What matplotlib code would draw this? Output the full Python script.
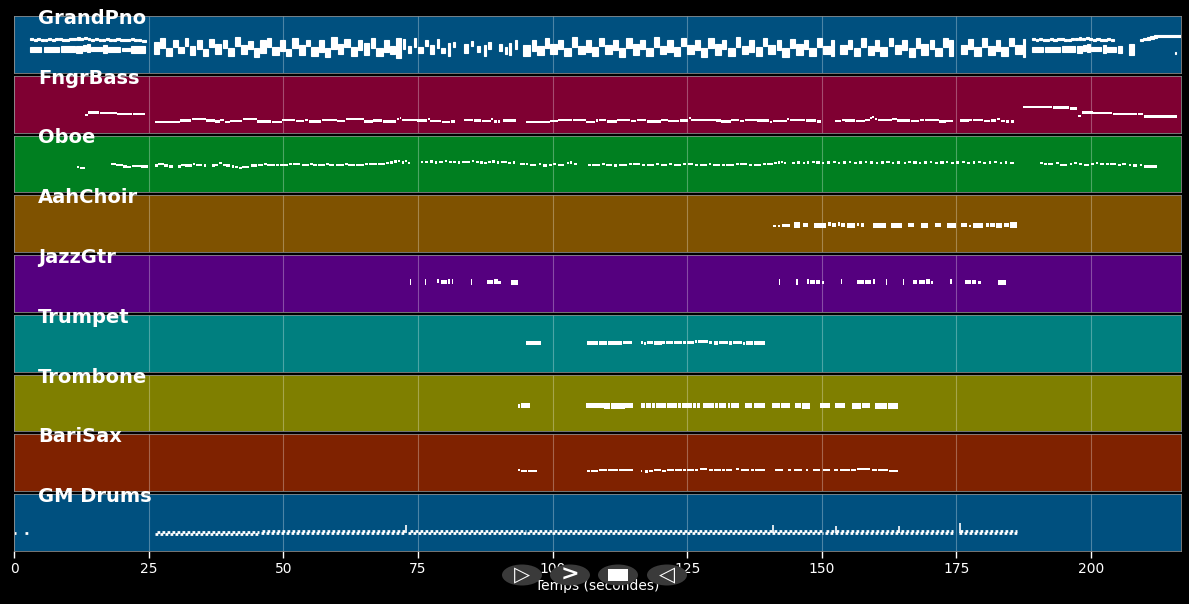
import matplotlib.pyplot as plt
from matplotlib.patches import Ellipse, Rectangle

tracks = ["GrandPno", "FngrBass", "Oboe", "AahChoir", "JazzGtr",
          "Trumpet", "Trombone", "BariSax", "GM Drums"]
track_colors = ["#00507f", "#7f0032", "#007f20", "#7f5200", "#55007f",
                "#007f7f", "#7f7f00", "#7f2200", "#00507f"]

# piano: (start, duration, lowest pitch, highest pitch)
piano_notes = [
    # intro, upper line
    (3.0, 0.6, 75, 75), (3.7, 0.5, 74, 74), (4.3, 0.6, 76, 76), (5.0, 0.6, 74, 74),
    (5.7, 0.5, 73, 73), (6.3, 0.6, 75, 75), (7.0, 0.6, 74, 74), (7.7, 0.5, 76, 76),
    (8.3, 0.6, 75, 75), (9.0, 0.6, 73, 73), (9.7, 0.5, 74, 74), (10.3, 0.6, 76, 76),
    (11.0, 0.6, 75, 75), (11.7, 0.5, 77, 77), (12.3, 0.6, 75, 75), (13.0, 0.6, 78, 78),
    (13.7, 0.5, 76, 76), (14.3, 0.6, 74, 74), (15.0, 0.6, 75, 75), (15.7, 0.5, 73, 73),
    (16.3, 0.6, 74, 74), (17.0, 0.6, 75, 75), (17.7, 0.5, 74, 74), (18.3, 0.6, 73, 73),
    (19.0, 0.6, 75, 75), (19.7, 0.5, 74, 74), (20.3, 0.6, 73, 73), (21.0, 0.6, 74, 74),
    (21.7, 0.5, 76, 76), (22.3, 0.6, 73, 73), (23.0, 0.6, 74, 74), (23.7, 0.8, 72, 72),
    # intro, lower chords
    (3.0, 2.1, 50, 56), (5.5, 2.9, 49, 56), (8.7, 2.6, 50, 57), (11.6, 1.0, 47, 58),
    (12.8, 0.5, 52, 60), (13.5, 0.6, 50, 62), (14.3, 2.1, 51, 55), (16.6, 0.6, 48, 60),
    (17.4, 2.3, 50, 56), (20.0, 1.6, 52, 54), (21.8, 2.6, 48, 57),
    # first section
    (26.0, 1.0, 44, 66), (27.2, 0.8, 58, 76), (28.2, 1.2, 40, 52), (29.6, 0.8, 60, 72),
    (30.5, 1.0, 46, 56), (31.7, 0.7, 62, 76), (32.6, 1.1, 42, 58), (34.0, 0.9, 56, 70),
    (35.1, 1.0, 40, 50), (36.3, 0.8, 60, 74), (37.3, 1.2, 44, 62), (38.8, 0.8, 58, 72),
    (39.8, 1.0, 40, 54), (41.0, 0.9, 62, 78), (42.1, 1.2, 44, 60), (43.5, 0.8, 56, 68),
    (44.5, 1.0, 38, 52), (45.7, 1.1, 48, 72), (47.0, 0.8, 60, 76), (48.0, 1.2, 42, 56),
    (49.4, 1.0, 52, 70), (50.6, 0.8, 40, 50), (51.6, 1.2, 58, 76), (53.0, 1.0, 42, 60),
    (54.2, 0.8, 62, 72), (55.2, 1.2, 40, 56), (56.6, 0.9, 50, 70), (57.7, 1.0, 38, 52),
    (58.9, 1.1, 56, 78), (60.2, 0.9, 44, 62), (61.3, 1.0, 60, 74), (62.5, 1.2, 40, 56),
    (63.9, 0.8, 54, 70), (64.9, 1.1, 42, 64), (66.2, 0.9, 58, 76), (67.3, 1.2, 40, 54),
    (68.7, 1.0, 50, 72), (69.9, 0.8, 44, 58), (70.9, 1.0, 36, 76),
    # sparse part
    (72.2, 0.4, 56, 74), (73.2, 0.6, 46, 58), (74.3, 0.3, 60, 76), (75.0, 0.9, 48, 56),
    (76.4, 0.5, 62, 70), (77.2, 0.7, 44, 60), (78.5, 0.4, 58, 74), (79.3, 0.8, 46, 54),
    (80.6, 0.3, 40, 64), (81.5, 0.3, 60, 66), (83.5, 0.8, 48, 62), (84.8, 0.4, 62, 68),
    (86.0, 0.6, 50, 58), (87.3, 0.3, 40, 60), (88.0, 0.6, 56, 66), (90.0, 0.7, 52, 62),
    (91.1, 0.5, 44, 56), (92.0, 0.3, 42, 64), (93.0, 0.4, 56, 70),
    # second section
    (94.6, 1.3, 40, 60), (96.1, 0.9, 52, 72), (97.2, 1.2, 42, 58), (98.6, 0.8, 58, 76),
    (99.6, 1.3, 44, 62), (101.1, 0.9, 56, 70), (102.2, 1.2, 40, 54), (103.6, 1.0, 60, 78),
    (104.8, 1.2, 44, 58), (106.2, 0.9, 50, 72), (107.3, 1.2, 40, 56), (108.7, 0.8, 62, 76),
    (109.7, 1.3, 44, 60), (111.2, 0.9, 54, 70), (112.3, 1.2, 38, 52), (113.7, 1.0, 58, 76),
    (114.9, 1.2, 42, 62), (116.3, 0.8, 56, 72), (117.3, 1.3, 40, 54), (118.8, 0.9, 60, 78),
    (119.9, 1.2, 44, 58), (121.3, 1.0, 50, 72), (122.5, 1.2, 40, 56), (123.9, 0.8, 62, 76),
    (124.9, 1.3, 44, 60), (126.4, 0.9, 54, 70), (127.5, 1.2, 38, 52), (128.9, 1.0, 58, 76),
    (130.1, 1.2, 42, 62), (131.5, 0.8, 56, 72), (132.5, 1.3, 40, 54), (134.0, 0.9, 60, 78),
    (135.1, 1.2, 44, 58), (136.5, 1.0, 50, 72), (137.7, 1.2, 40, 56), (139.1, 0.8, 62, 76),
    (140.1, 1.3, 44, 60), (141.6, 0.9, 54, 70), (142.7, 1.2, 38, 52), (144.1, 1.0, 58, 74),
    (145.3, 1.2, 42, 62), (146.7, 0.8, 56, 72), (147.7, 1.3, 40, 54), (149.2, 0.9, 60, 76),
    (150.3, 1.2, 44, 58), (151.7, 0.6, 40, 72),
    (153.4, 1.2, 44, 60), (154.8, 0.9, 56, 72), (155.9, 1.2, 40, 54), (157.3, 1.0, 60, 76),
    (158.5, 1.2, 42, 58), (159.9, 0.8, 52, 72), (160.9, 1.3, 40, 56), (162.4, 0.9, 62, 76),
    (163.5, 1.2, 44, 60), (164.9, 1.0, 54, 70), (166.1, 1.2, 38, 52), (167.5, 0.8, 58, 76),
    (168.5, 1.3, 42, 62), (170.0, 0.9, 56, 72), (171.1, 1.2, 40, 54), (172.5, 1.0, 60, 76),
    (173.7, 0.6, 40, 72),
    (175.8, 1.2, 44, 60), (177.2, 0.9, 56, 74), (178.3, 1.2, 40, 56), (179.7, 1.0, 60, 76),
    (180.9, 1.2, 42, 58), (182.3, 0.8, 52, 72), (183.3, 1.3, 40, 56), (184.8, 0.9, 62, 76),
    (185.9, 1.2, 44, 60), (187.3, 0.5, 38, 74),
    # outro, upper line
    (189.0, 0.6, 75, 75), (189.7, 0.5, 74, 74), (190.3, 0.6, 76, 76), (191.0, 0.6, 74, 74),
    (191.7, 0.5, 73, 73), (192.3, 0.6, 75, 75), (193.0, 0.6, 74, 74), (193.7, 0.5, 76, 76),
    (194.3, 0.6, 75, 75), (195.0, 0.6, 73, 73), (195.7, 0.5, 74, 74), (196.3, 0.6, 76, 76),
    (197.0, 0.6, 75, 75), (197.7, 0.5, 77, 77), (198.3, 0.6, 75, 75), (199.0, 0.6, 78, 78),
    (199.7, 0.5, 76, 76), (200.3, 0.6, 74, 74), (201.0, 0.6, 75, 75), (201.7, 0.5, 73, 73),
    (202.3, 0.6, 74, 74), (203.0, 0.6, 75, 75), (203.7, 0.5, 74, 74),
    # outro, lower chords
    (189.0, 2.0, 50, 56), (191.4, 2.9, 49, 56), (194.6, 2.4, 50, 57), (197.3, 1.0, 47, 58),
    (198.5, 0.5, 52, 60), (199.2, 0.6, 50, 62), (200.0, 1.9, 51, 55), (202.2, 0.6, 48, 60),
    (203.0, 1.6, 50, 56), (205.0, 0.8, 48, 57), (207.0, 1.0, 42, 62),
    # final rising line
    (209.0, 0.6, 73, 73), (209.7, 0.6, 75, 75), (210.4, 0.6, 77, 77), (211.0, 0.6, 79, 79),
    (211.7, 0.6, 81, 81), (212.3, 4.4, 83, 83), (215.5, 0.2, 45, 45),
]

# single-line tracks: (start, duration, pitch)
bass_notes = [
    (13.2, 0.6, 40), (13.8, 2.0, 45), (15.9, 3.2, 44), (19.2, 2.8, 42), (22.1, 2.3, 41),
    (26.2, 2.9, 23), (29.2, 1.6, 24), (30.9, 2.0, 27), (33.0, 2.6, 30), (35.7, 1.6, 27),
    (37.4, 0.8, 25), (38.3, 0.7, 28), (39.1, 1.0, 24), (40.2, 2.2, 26), (42.5, 2.6, 30),
    (45.2, 2.6, 25), (47.9, 1.8, 23), (49.8, 2.4, 28), (52.3, 1.6, 26), (54.0, 0.6, 28),
    (54.7, 2.3, 25), (57.1, 2.8, 28), (60.0, 1.5, 26), (61.6, 0.4, 31), (62.1, 2.8, 30),
    (65.0, 1.6, 25), (66.7, 1.7, 27), (68.5, 2.5, 25), (71.1, 0.4, 31), (71.6, 0.3, 33),
    (72.0, 2.8, 28), (74.9, 1.8, 27), (76.8, 0.4, 31), (77.3, 2.0, 26), (79.4, 1.6, 24),
    (81.1, 0.8, 25), (83.5, 1.8, 28), (85.4, 1.4, 27), (86.9, 1.6, 26), (88.6, 0.4, 30),
    (89.1, 0.6, 25), (89.8, 0.5, 25), (90.8, 2.4, 27),
    (95.0, 2.6, 24), (97.7, 1.8, 23), (99.6, 1.4, 26), (101.1, 2.6, 29), (103.8, 2.4, 28),
    (106.3, 1.6, 24), (108.0, 0.5, 27), (108.6, 1.4, 28), (110.1, 1.8, 25), (112.0, 2.4, 29),
    (114.5, 1.0, 26), (115.6, 1.8, 28), (117.5, 2.6, 25), (120.2, 1.2, 28), (121.5, 2.0, 26),
    (123.6, 1.6, 27), (125.3, 0.4, 33), (125.8, 2.8, 29), (128.7, 1.6, 28), (130.4, 0.8, 27),
    (131.3, 1.8, 25), (133.2, 1.5, 28), (134.8, 0.8, 26), (135.7, 2.2, 29), (138.0, 2.2, 27),
    (140.3, 0.5, 24), (140.9, 2.6, 26), (143.6, 0.4, 31), (144.1, 2.8, 29), (147.0, 2.0, 27),
    (149.1, 0.8, 25),
    (152.4, 1.2, 26), (153.7, 0.6, 28), (154.4, 1.8, 27), (156.3, 1.7, 26), (158.1, 0.8, 29),
    (159.0, 0.3, 33), (159.4, 0.3, 35), (159.9, 0.4, 31), (160.4, 2.6, 28), (163.1, 0.8, 30),
    (164.0, 2.4, 27), (166.5, 1.6, 26), (168.2, 0.8, 29), (169.1, 2.6, 28), (171.8, 1.2, 25),
    (173.1, 1.2, 26),
    (175.7, 1.6, 27), (177.4, 0.5, 29), (178.0, 2.0, 28), (180.1, 1.2, 26), (181.4, 1.0, 27),
    (182.5, 0.5, 30), (183.2, 0.8, 26), (184.2, 0.6, 25), (185.2, 0.4, 25),
    (187.4, 5.4, 57), (192.9, 3.0, 56), (196.0, 1.3, 54),
    (197.6, 0.6, 38), (198.3, 2.0, 45), (200.4, 1.8, 44), (202.3, 1.6, 44), (204.0, 4.6, 42),
    (208.7, 1.0, 41), (209.8, 6.2, 36),
]

oboe_notes = [
    (11.7, 0.4, 56), (12.3, 0.9, 55), (18.1, 0.8, 64), (19.0, 1.2, 62), (20.3, 0.6, 58),
    (21.0, 0.8, 56), (22.0, 1.5, 59), (23.6, 1.3, 58),
    (26.1, 0.6, 60), (26.8, 1.0, 63), (27.9, 0.7, 60), (28.7, 0.9, 58), (30.4, 0.6, 58),
    (31.1, 0.6, 62), (31.8, 1.2, 60), (33.2, 0.5, 64), (33.8, 1.2, 62), (35.2, 0.5, 60),
    (36.8, 0.5, 60), (37.4, 0.5, 62), (38.0, 0.6, 65), (38.8, 0.5, 62), (39.4, 0.8, 60),
    (40.5, 0.4, 58), (41.0, 0.6, 56), (41.8, 0.5, 55), (42.4, 1.3, 57), (44.0, 0.5, 60),
    (44.6, 0.6, 60), (45.4, 0.8, 61), (46.4, 0.5, 63), (47.0, 1.5, 61), (48.7, 0.6, 62),
    (49.4, 1.5, 62), (51.1, 0.6, 64), (51.8, 1.4, 63), (53.4, 1.4, 62), (55.0, 0.5, 64),
    (55.6, 0.6, 62), (56.4, 1.3, 62), (57.9, 0.5, 63), (58.5, 1.0, 61), (59.7, 1.6, 61),
    (61.5, 0.5, 63), (62.1, 1.2, 62), (63.5, 1.4, 62), (65.1, 0.6, 63), (65.9, 1.5, 63),
    (67.6, 1.2, 64), (69.0, 0.6, 65), (69.8, 0.6, 67), (70.6, 0.5, 69), (71.3, 0.4, 70),
    (72.0, 0.4, 67), (72.6, 0.4, 70), (73.2, 0.4, 66),
    (75.5, 0.5, 68), (76.3, 0.5, 68), (77.3, 0.5, 69), (78.2, 0.4, 67), (79.0, 0.6, 68),
    (80.0, 0.4, 70), (80.8, 0.5, 68), (81.6, 0.4, 68), (82.4, 0.5, 67), (83.2, 1.5, 68),
    (85.0, 0.5, 70), (85.8, 0.5, 68), (86.6, 0.4, 67), (87.3, 0.6, 66), (88.1, 0.4, 68),
    (88.8, 0.5, 69), (89.6, 0.5, 67), (90.5, 1.0, 68), (91.8, 0.5, 66), (92.6, 0.5, 67),
    (94.0, 0.8, 64), (95.0, 0.5, 63), (95.8, 1.2, 62), (97.4, 0.5, 64), (98.2, 0.8, 60),
    (99.4, 0.5, 62), (100.1, 0.6, 63), (101.0, 1.2, 62), (102.6, 0.4, 66), (103.3, 0.4, 67),
    (104.0, 0.5, 64), (106.5, 0.6, 62), (107.4, 1.4, 61), (109.2, 0.5, 63), (110.0, 1.0, 62),
    (111.4, 0.6, 60), (112.3, 1.5, 62), (114.2, 0.5, 64), (115.0, 1.2, 63), (116.6, 0.6, 62),
    (117.5, 1.4, 62), (119.3, 0.5, 63), (120.1, 1.2, 61), (121.7, 0.5, 63), (122.5, 1.4, 62),
    (124.3, 0.5, 64), (125.1, 1.0, 63), (126.5, 0.5, 62), (127.3, 1.3, 62), (129.0, 0.5, 63),
    (129.8, 1.3, 61), (131.5, 0.5, 62), (132.3, 1.4, 61), (134.1, 0.5, 64), (134.9, 1.2, 63),
    (136.5, 0.6, 62), (137.4, 1.3, 62), (139.1, 0.5, 63), (139.9, 1.0, 64), (141.2, 0.4, 66),
    (141.8, 0.4, 67), (142.4, 0.4, 68), (143.0, 0.4, 66),
    (144.5, 0.5, 66), (145.4, 0.6, 67), (146.5, 0.4, 66), (147.3, 0.4, 67), (148.2, 0.5, 68),
    (149.0, 0.6, 67), (150.0, 0.4, 66), (151.0, 0.5, 67), (152.0, 0.6, 68), (153.0, 0.4, 66),
    (154.0, 0.5, 67), (155.0, 0.4, 68), (156.0, 0.6, 66), (157.0, 0.5, 67), (158.0, 0.4, 68),
    (159.0, 0.6, 67), (160.0, 0.4, 66), (161.0, 0.5, 67), (162.0, 0.6, 68), (163.0, 0.4, 66),
    (164.0, 0.5, 67), (165.2, 0.4, 66), (166.0, 0.5, 68), (167.0, 0.6, 67), (168.0, 0.4, 66),
    (169.0, 0.6, 67), (170.0, 0.4, 68), (171.0, 0.5, 66), (172.0, 0.6, 67), (173.0, 0.4, 68),
    (174.0, 0.5, 66), (175.0, 0.4, 67), (176.0, 0.6, 68), (177.0, 0.5, 66), (178.0, 0.4, 67),
    (179.0, 0.6, 68), (180.0, 0.5, 66), (181.0, 0.4, 67), (182.0, 0.6, 68), (183.0, 0.5, 66),
    (184.0, 0.4, 67), (185.0, 0.6, 66),
    (190.5, 0.5, 66), (191.3, 0.5, 64), (192.0, 1.0, 63), (193.5, 0.5, 65), (194.3, 1.2, 62),
    (196.0, 0.5, 64), (196.8, 0.6, 66), (197.8, 0.5, 64), (198.6, 1.0, 62), (200.0, 0.6, 64),
    (200.9, 0.4, 66), (201.6, 0.8, 64), (202.8, 0.5, 63), (203.6, 1.0, 64), (205.0, 0.5, 62),
    (205.8, 0.6, 64), (207.0, 0.5, 62), (207.8, 0.8, 60), (209.0, 0.5, 61), (209.8, 2.4, 58),
]

choir_notes = [
    (141.0, 0.5, 58, 58), (141.8, 0.5, 59, 59), (142.6, 1.5, 58, 60), (144.8, 1.2, 56, 64),
    (146.6, 0.8, 58, 62), (148.6, 2.1, 56, 62), (151.2, 0.5, 60, 64), (151.9, 0.8, 58, 62),
    (153.0, 0.4, 60, 64), (153.6, 0.8, 58, 63), (154.6, 1.6, 57, 62), (156.5, 0.4, 60, 62),
    (157.2, 0.6, 59, 63), (159.5, 2.4, 57, 62), (162.9, 2.0, 57, 63), (166.0, 1.2, 58, 62),
    (168.5, 1.3, 57, 62), (171.0, 1.2, 58, 62), (173.2, 1.8, 56, 63), (175.8, 1.2, 58, 62),
    (177.3, 0.4, 59, 59), (178.0, 2.0, 57, 62), (180.5, 0.5, 58, 62), (181.3, 0.8, 58, 62),
    (182.4, 1.1, 57, 63), (183.8, 1.0, 58, 62), (185.0, 1.3, 56, 64),
]

guitar_notes = [
    (73.5, 0.2, 63, 71), (76.3, 0.2, 63, 71), (78.5, 0.5, 68, 72), (79.2, 1.2, 64, 68),
    (80.6, 0.3, 66, 70), (81.3, 0.3, 64, 70), (84.8, 0.2, 63, 71), (87.8, 1.2, 64, 68),
    (89.2, 0.6, 66, 70), (89.9, 0.5, 64, 66), (92.3, 1.2, 63, 69),
    (142.0, 0.2, 63, 71), (145.3, 0.2, 63, 71), (147.2, 0.4, 66, 72), (147.8, 1.0, 64, 68),
    (149.0, 0.7, 65, 69), (150.0, 0.4, 64, 66), (153.5, 0.3, 66, 72), (156.5, 1.3, 64, 68),
    (158.0, 1.2, 64, 68), (159.5, 0.4, 66, 70), (162.0, 0.2, 63, 71), (165.0, 0.3, 63, 71),
    (167.0, 0.6, 65, 69), (168.0, 1.2, 64, 68), (169.4, 0.6, 66, 70), (170.2, 0.4, 64, 66),
    (173.8, 0.3, 66, 72), (176.5, 1.2, 64, 68), (177.9, 0.8, 65, 69), (179.0, 0.5, 64, 66),
    (182.8, 1.4, 63, 69),
]

trumpet_notes = [
    (95.0, 2.8, 63, 65), (106.4, 2.0, 63, 65), (108.6, 1.6, 63, 66), (110.3, 2.6, 63, 65),
    (113.0, 1.8, 64, 66), (116.4, 0.4, 64, 66), (117.0, 0.3, 62, 64), (117.6, 1.0, 64, 66),
    (118.8, 1.5, 63, 65), (120.4, 0.5, 65, 67), (121.1, 1.2, 64, 66), (122.5, 1.6, 65, 67),
    (124.3, 0.5, 64, 66), (125.0, 1.2, 65, 67), (126.4, 0.4, 66, 68), (127.0, 1.8, 66, 68),
    (129.0, 0.6, 65, 67), (130.0, 0.8, 63, 65), (131.0, 1.5, 64, 66), (132.7, 0.6, 63, 65),
    (133.5, 1.6, 64, 66), (135.3, 0.5, 62, 64), (136.0, 1.3, 63, 65), (137.5, 1.9, 63, 65),
]

trombone_notes = [
    (93.6, 0.4, 54, 58), (94.2, 1.6, 54, 60), (106.3, 3.2, 54, 60), (109.6, 1.0, 53, 61),
    (110.8, 2.6, 53, 61), (113.5, 1.5, 54, 61), (116.5, 0.6, 54, 60), (117.3, 1.0, 55, 61),
    (118.5, 0.6, 54, 60), (119.3, 1.8, 54, 61), (121.3, 1.8, 54, 61), (123.3, 0.6, 55, 60),
    (124.1, 1.8, 54, 61), (126.1, 0.5, 54, 60), (126.8, 0.6, 54, 60), (128.0, 2.0, 55, 62),
    (130.2, 0.6, 54, 60), (131.0, 1.3, 54, 60), (132.5, 0.5, 55, 60), (133.2, 1.5, 54, 61),
    (135.7, 1.4, 54, 60), (137.4, 2.1, 54, 61), (140.7, 1.6, 54, 60), (142.5, 1.6, 55, 61),
    (145.0, 1.2, 54, 60), (146.4, 1.4, 53, 60), (149.7, 1.8, 54, 60), (152.5, 1.8, 54, 61),
    (155.6, 1.6, 53, 60), (157.4, 1.6, 54, 60), (159.9, 2.2, 53, 60), (162.3, 1.9, 53, 60),
]

sax_notes = [
    (93.6, 0.4, 47), (94.2, 1.0, 46), (95.4, 1.8, 46), (106.4, 0.6, 45), (107.1, 1.3, 46),
    (108.6, 1.5, 47), (110.3, 1.8, 47), (112.3, 2.6, 47), (116.4, 0.3, 45), (117.2, 0.5, 44),
    (118.0, 0.6, 46), (118.8, 1.4, 47), (120.4, 0.6, 46), (121.2, 1.3, 48), (122.7, 1.3, 47),
    (124.2, 0.6, 48), (125.0, 1.3, 47), (126.5, 0.6, 48), (127.3, 1.3, 49), (129.0, 0.8, 47),
    (130.0, 1.3, 48), (131.5, 0.6, 47), (132.3, 1.0, 48), (134.0, 0.6, 49), (135.0, 1.5, 47),
    (136.8, 0.6, 48), (137.6, 1.8, 47), (141.3, 1.5, 48), (143.7, 0.5, 47), (144.8, 1.5, 48),
    (147.0, 0.5, 47), (148.3, 1.4, 48), (150.3, 1.2, 48), (152.3, 0.8, 47), (153.3, 2.0, 48),
    (155.5, 0.8, 47), (156.5, 2.5, 49), (159.3, 1.0, 48), (160.5, 1.8, 47), (162.5, 1.7, 46),
]

# drums: continuous grooves (start, end, pitch) and accent hits (time, low, high)
drum_grooves = [
    (0.0, 0.4, 41), (2.1, 3.0, 41),
    (26.1, 45.5, 39), (26.5, 45.5, 43), (45.8, 72.8, 40), (46.0, 72.8, 44),
    (73.2, 95.0, 40), (73.5, 95.0, 44), (95.3, 150.3, 40), (95.6, 150.3, 44),
    (150.6, 174.4, 40), (150.8, 174.4, 44), (175.5, 186.3, 40), (175.7, 186.3, 44),
]
drum_accents = [(72.8, 40, 58), (141.0, 40, 58), (152.6, 40, 56), (164.3, 40, 56), (175.7, 40, 62)]

block_tracks = {0: piano_notes, 3: choir_notes, 4: guitar_notes, 5: trumpet_notes, 6: trombone_notes}
line_tracks = {1: bass_notes, 2: oboe_notes, 7: sax_notes}

NOTE_H = 5

fig = plt.figure(figsize=(11.89, 6.04), dpi=100, facecolor="black")
axes = fig.subplots(9, 1, sharex=True)
fig.subplots_adjust(left=14/1189, right=1181/1189, top=1-16/604, bottom=1-551/604, hspace=0.05)

for i, ax in enumerate(axes):
    ax.set_facecolor(track_colors[i])
    ax.set_ylim(0, 127)
    ax.set_xlim(0, 216.7)
    ax.set_yticks([])
    ax.set_axisbelow(True)
    ax.grid(axis="x", color="white", alpha=0.3, linewidth=0.8)
    for sp in ax.spines.values():
        sp.set_color("#8a8a8a")
        sp.set_linewidth(0.6)

    if i in block_tracks:
        notes = block_tracks[i]
    elif i in line_tracks:
        notes = [(s, d, p, p) for s, d, p in line_tracks[i]]
    else:
        notes = []
    if notes:
        # piano chords get a thin white outline so they read as a dense mass
        edge = 0.8 if i == 0 else 0
        ax.bar([n[0] for n in notes], [n[3] - n[2] + NOTE_H for n in notes],
               width=[n[1] for n in notes], bottom=[n[2] - NOTE_H / 2 for n in notes],
               align="edge", color="white", edgecolor="white", linewidth=edge)

    ax.text(0.0206, 0.86, tracks[i], transform=ax.transAxes, color="white",
            fontsize=14, fontweight="bold", va="baseline", ha="left", zorder=10)

drums_ax = axes[8]
for s, e, p in drum_grooves:
    drums_ax.hlines(p, s, e, color="white", linewidth=2.0, linestyle=(0, (1.0, 0.8)))
for t, lo, hi in drum_accents:
    drums_ax.vlines(t, lo, hi, color="white", linewidth=1.2)

for ax in axes[:-1]:
    ax.tick_params(axis="x", length=0)
axes[-1].set_xticks([0, 25, 50, 75, 100, 125, 150, 175, 200])
axes[-1].tick_params(axis="x", colors="white", labelsize=10, length=5, width=1, pad=3)
axes[-1].set_xlabel("Temps (secondes)", color="white", fontsize=10, labelpad=2)

# player buttons drawn over the axis label
btn_x = [522, 570, 618, 667]
btn_sym = ["▷", ">", None, "◁"]
for bx, sym in zip(btn_x, btn_sym):
    cx, cy = bx / 1189, 1 - 575 / 604
    fig.add_artist(Ellipse((cx, cy), 40 / 1189, 21 / 604, transform=fig.transFigure,
                           facecolor="#3a3a3a", edgecolor="none", zorder=20))
    if sym is None:
        fig.add_artist(Rectangle((cx - 10 / 1189, cy - 6 / 604), 20 / 1189, 12 / 604,
                                 transform=fig.transFigure, facecolor="white",
                                 edgecolor="none", zorder=21))
    else:
        fig.text(cx, cy, sym, color="white", fontsize=16 if sym == ">" else 15,
                 fontweight="bold", ha="center", va="center", zorder=21)

fig.savefig("out.png", dpi=100, facecolor="black")
